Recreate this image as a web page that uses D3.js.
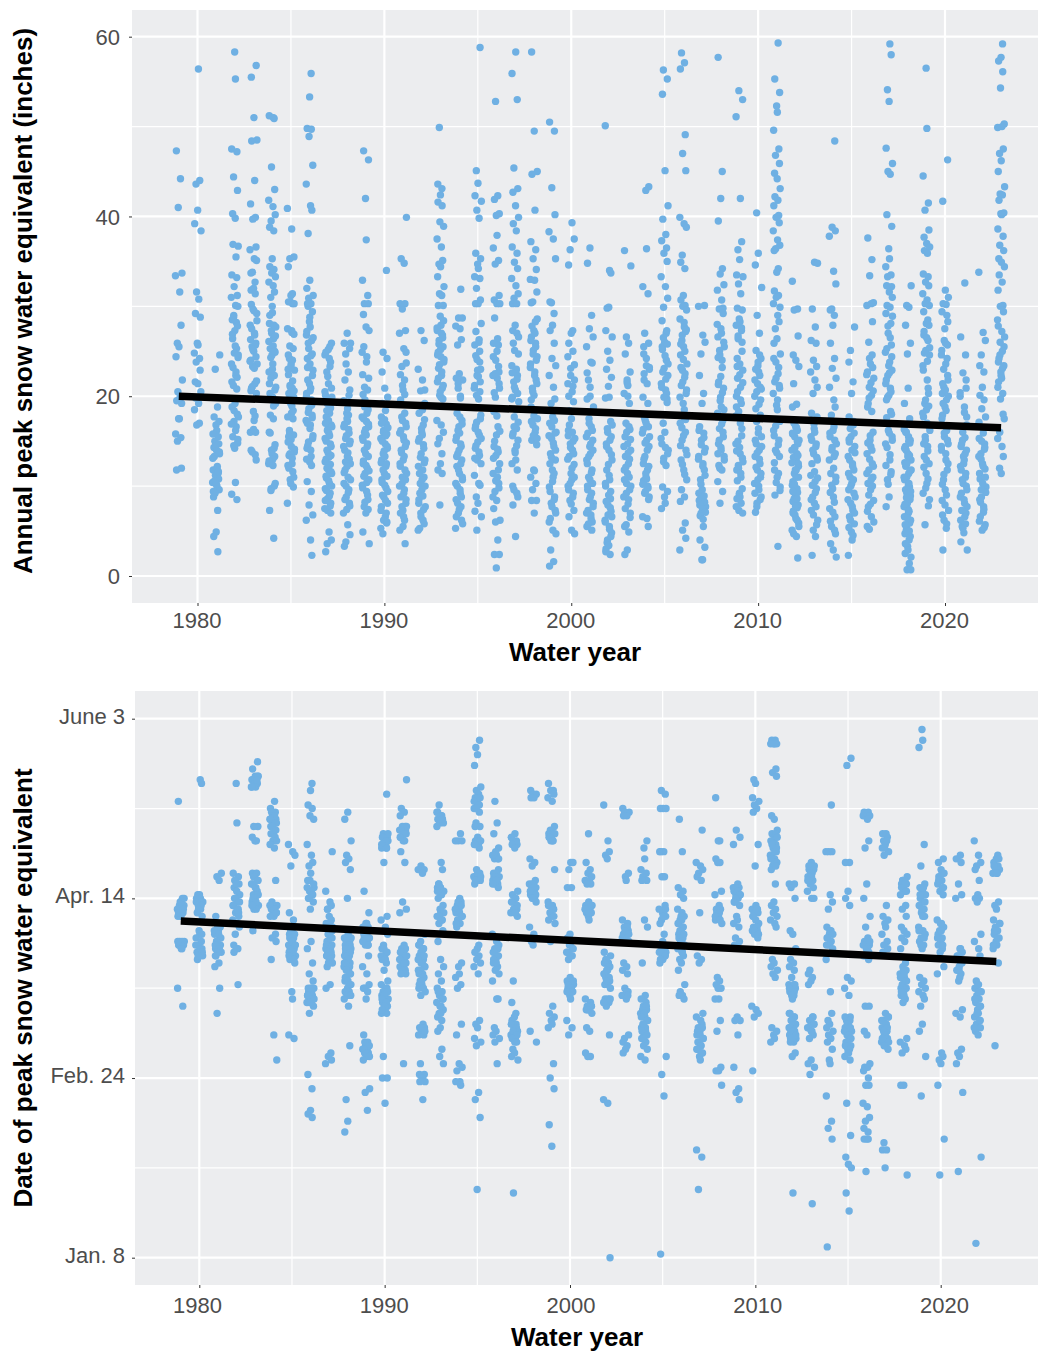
<!DOCTYPE html>
<html lang="en">
<head>
<meta charset="UTF-8">
<title>Peak snow water equivalent</title>
<script src="https://d3js.org/d3.v7.min.js"></script>
<style>
    body { margin: 0; background: white; }
    text { font-family: "Liberation Sans", Arial, sans-serif; }
    .title { font-weight: bold; font-size: 26px; fill: black; }
    .tick text { font-size: 22px; fill: #4d4d4d; }
    .tick line { stroke: #333; }
</style>
</head>
<body>
<div id="chart"></div>
<script>
const years = d3.range(1979, 2024);

// annual peak SWE (inches), one row per water year
const sweByYear = [
[47.3,44.2,41,33.7,33.4,31.6,27.9,25.9,25.5,24.4,21.8,20.5,19.9,19.5,19.2,17.5,17.5,15.8,15.4,15,12,11.8],
[56.4,44,43.6,40.7,39.2,38.4,31.6,30.8,29.2,28.8,25.9,25.7,24.8,24.2,23.8,22.9,21.6,21.4,20.5,19.8,19.2,18.5,17,16.8],
[24.6,23,18.8,17.7,17.2,16.8,16.2,15.8,15.5,15,14.7,14.3,14,13.6,13.3,12.2,11.8,11.4,11.2,10.8,10.4,10,9.6,9.2,8.8,7.3,4.9,4.4,2.7],
[58.3,55.3,47.5,47.2,44.4,42.9,40.3,39.8,36.7,36.9,35.5,33.5,33.2,32.2,31.2,31,30.1,30,29,28.5,28.2,27.3,26.9,25.3,24.8,24.3,23.6,22.3,22.1,21.2,19.2,18.8,17.7,17.2,16.6,15.5,14.8,14.2,10.4,9.1,8.5],
[56.8,55.5,51,48.5,48.4,44,41.4,39.9,39.7,36.6,36.3,35.3,35.1,33.8,33.7,32.7,32,31.8,31.4,29.7,29.2,27.9,27,25.9,25.5,25,24,23.6,23.3,21.4,20.9,20.3,18.3,17.3,16,16,13.8,12.9],
[51,51.2,50.9,45.5,43,41.8,41.1,40.2,39.5,38.8,38.4,35.3,34.4,34.1,33.7,33.3,32.7,32.3,31.6,31,29.3,28.1,27.7,27.3,26.4,25.3,24.9,24.6,23.6,22.7,22.3,22,20.7,20.3,19.9,19.2,17.9,17.5,16,14.2,14,13.3,12.5,12.3,10.3,9.7,7.3,4.2],
[40.9,38.6,35.5,35.3,34.4,31.4,31.2,30.5,30.3,30.5,30.3,27.5,27.1,25.3,24.2,23.6,23,22.9,21.2,20.9,20.3,19.9,19.2,18.1,17.7,17.5,15.9,15.7,15.5,14.4,13.8,13.4,12.5,12.3,11.6,10.7,9.9,8.1],
[55.9,53.3,49.8,49.7,48.9,45.7,43.6,41.2,40.7,38.1,32.9,32,31.2,30.9,30.3,30.3,29.4,28.3,27.7,26.8,26.2,25.9,24.7,24.2,23.6,22.9,21.8,20.9,20.3,19.6,18.6,17.9,17.3,16.8,15.3,14.9,14.2,13.3,12.7,10.5,9.4,7.9,6.8,6.2,4,2.3],
[25.9,24.6,24.2,23.8,22.7,21.4,20.1,19.9,19.2,18.1,17.7,16.8,16.4,15.9,15.3,14.7,14,13.4,13,11.8,11.4,10.9,10.3,9.7,9.2,8.6,8.1,7.5,4.9,4,3.6,2.7],
[27,25.9,25.9,23.6,22.7,21.8,20.7,18.1,17.2,16.6,15.9,15.3,14.7,14,13.3,12.5,11.8,11,10.3,9.6,8.8,8.1,7,5.7,4.6,3.8,3.3],
[47.3,46.3,42,37.4,32.9,31.2,30.3,30.3,29.1,27.7,27.3,25.5,24.4,22.4,20.7,19.6,18.5,17.7,17.2,16.6,16,15.1,14.4,13.6,12.5,12,11.4,10.7,10.1,9.4,8.5,7.7,7,4.9,3.6],
[34,24.9,24.2,22.7,20.9,19.9,19.2,18.4,17.7,16.9,16.2,15.8,15.3,14.7,14.2,13.6,12.9,12.2,11.4,10.7,9.8,8.8,8.1,7.3,6.6,5.9,4.7],
[39.9,35.3,34.8,30.3,30.3,29.7,27.3,27,25.3,24.9,23.3,22.4,21.8,20.7,19.2,18.1,17.3,16.6,15.9,15.1,14.4,13.7,12.9,12.2,11.4,10.3,9.6,8.8,8.1,7.3,6.6,5.1,3.6],
[27.3,26.2,23,21.8,20.7,20.6,18.1,16.8,16,15.3,14.6,13.6,12.9,12.2,11.8,11,10.3,9.6,8.5,7.7,7,6.2,5.3],
[49.9,43.6,43.1,42.4,41.6,41.2,39.4,38.9,37.5,36.6,35.1,34.7,34.4,33.3,32.2,31.4,31.2,30.1,30.1,28.9,27.9,27.3,26.8,26.2,25.5,24.9,24.4,23.8,23.1,22.3,21.6,20.9,20.1,19.7,17.3,16.8,16,15.3,14.7,13.6,12.5,11.8,11.4,7.9],
[31.9,28.7,28.7,27.8,27.5,26.3,25.7,22.5,22,21.8,21.4,20,18.1,17.3,16.6,15.9,15.1,14.4,13.6,12.9,12.2,11.4,10.7,10,9.2,8.5,7.7,7,6.2,5.3],
[58.8,45.1,43.7,42.3,41.7,40.7,39.8,35.9,35.3,34.7,34.2,33.3,33.1,32,30.7,30.3,30.3,28.1,27.2,26,25.7,23.8,22.3,21.6,20.9,19.7,17.9,17.1,16.4,15.7,14.9,14.2,13.4,12.9,12.5,11.2,10.3,10.1,8.8,8.1,7.2,6.6,5.1],
[52.8,42.3,41.9,40.3,40.1,37.9,36.5,35.1,34.7,31.2,30.7,30.3,30.3,28.7,26.4,25.9,25.7,24,22.7,22.3,22,20.9,19.9,18.3,16.6,15.7,14.4,13.8,13.4,12.5,11.4,11,10.3,9.4,8.4,7.5,6.2,6,4,2.4,2.4,0.9],
[58.3,55.9,53,45.4,43.1,42.7,41.2,39.9,39.2,38.4,36.6,35.9,34.9,34.2,33.1,32.3,31.4,30.9,30.3,30.3,27.9,27.3,27,25.1,24.7,23.4,22.9,22.3,21.6,20.7,19.9,19.4,17.7,16.4,15.9,15.1,14,12.9,12.5,11.8,9.6,8.8,7.9,4.4],
[58.3,49.5,45,44.7,40.7,37.2,36.3,35.3,34.1,33,32.9,31.6,30.5,30.4,28.3,27.3,26.6,25.9,25.1,24.4,23.6,22.7,21.8,20.9,20.1,18.8,17.5,16.8,16,15.1,14.6,11.8,11.7,11,10.3,9.6,8.4,8.4,7],
[50.5,49.5,43.2,40.2,38.3,37.5,35.3,30.4,30.5,29.2,27.9,27.3,25.9,24.2,23.4,22.3,21,19.7,19.2,17.7,17,16,15.3,14.4,13.6,12.9,11.8,11,9.9,8.8,8.1,7.3,6.4,5.1,4.7,2.9,1.6,1.1],
[39.3,37.5,36.3,34.6,27.3,27,25.9,25,23.1,21.8,21.4,20.5,19.4,18.4,17.5,16.2,15.3,14.7,14,13.3,12.4,11.4,10.7,10,9.2,8.4,7.3,6.6,5.1,4.7],
[36.5,34.8,29,27.5,26.6,25.5,23.8,23.7,21.8,21,19.7,18.8,17.5,16.6,15.9,15.1,14.4,13.6,12.9,11.8,11,10.3,9.6,8.8,8.1,7.3,6.4,5.5,5.1],
[50.1,34,33.7,29.8,29.9,27.3,26.6,25,24,23,22.1,21.1,19.9,19.8,17.2,16.4,15.5,14.7,14,12.9,11.8,10.7,10,8.6,7.9,7.2,6.2,5.5,4.8,4,3,2.4],
[36.2,34.5,26.6,25.9,24.7,22.7,21.8,21.2,20.3,19.2,17,16.3,15.5,14.7,14,13.3,12.5,11.8,11,10.3,9.6,8.8,8,7,5.7,5.5,4.9,2.9,2.4],
[43.3,42.9,36.4,32.2,31.4,27,25.9,24.7,23.4,23,21.8,21.4,19.9,19.2,17.3,16.6,15.9,15.1,14.4,13.3,12.5,11.8,11,10.6,10,9.4,8.8,6.6,6.4,5.5],
[56.3,55.3,53.6,45.1,41.2,39.7,38,37.3,36.5,35.9,35,33.3,32.2,30.9,29.9,28.4,27,26,25.5,24,23.1,22.3,21.4,20.7,19.7,17,16,14.7,14,13.1,12.3,9.9,9.4,8.8,8.1,7.5],
[58.2,57.1,56.4,49.1,47,45.1,39.9,39.2,38.8,35.7,34.9,34.2,31.2,30.7,30.1,30,29.6,28.6,27.7,27.2,26.2,25.5,24.6,23.6,22.9,22.1,21.2,20.3,19.2,17.7,17,16,15.1,14,12.9,11.8,10.7,9.6,8.8,8.3,5.9,5.1,4.2,2.9],
[30.1,30,26.8,26,24.7,22.3,20.3,19.2,16.6,15.9,15.1,14.2,13.3,12.5,11.8,10.7,9.6,8.4,7.7,7,5.5,4,3.2,1.8,1.8],
[57.7,45,42,39.5,34.2,33.6,32.4,31.8,30.7,29.8,29.7,27.5,26.6,25.5,24.6,24,21.6,20.9,19.9,18.8,18.1,17.3,16.4,15.5,14.7,14,13.3,12.3,11.8,10.5,9.4,8.1],
[54,53,51.1,42,37.2,36.3,35.2,33.5,33.3,32.5,31.4,29.8,29.6,28.6,28.3,27.9,27.3,26.4,26,24.2,23.6,22.9,22,21,20,19.2,18.3,16.4,14.7,13.6,13.1,12.3,11.8,11,9.2,8.6,8.1,7.3,7],
[40.4,35.9,34.6,32.1,29,27,25.1,24.2,23.4,22.7,21.8,21,20.5,19.6,18.6,16.4,15.5,14.7,14,13.3,12.5,11.8,11,10.3,9.6,8.8,8.1,7.1],
[59.3,55.3,53.8,52.3,51.6,49.6,47.5,46.8,45.9,44.8,44.2,43.1,42.2,41.8,41.2,40.1,39.9,39.3,38.4,37.4,36.8,36.4,36.2,34.2,33.8,31.7,31.2,31,29.9,30.3,29,28.3,27.5,26.4,25.9,24.7,23.8,22.5,21.6,20.9,19,18.5,16.2,15.1,14,13.3,11.8,11,9.9,9,3.3],
[32.8,29.7,29.6,26.7,24.6,24,23.3,21.4,19.1,18.8,16.2,15.5,14.7,14,12.9,12.2,11.4,10.5,9.7,9,8.3,7.6,6.8,5.9,5.1,4.4,2],
[34.9,34.8,29.7,27.7,26.2,25.9,24,23.3,22.7,21.8,21,20.3,18.1,17.3,16.4,15.1,14.4,13.6,12.9,11.2,10.5,9.7,8.8,8.1,7.3,6.2,5.1,4.4,2.3],
[48.4,38.8,38.4,37.8,33.9,32.5,29.7,29.6,29,27.9,25.9,24.2,23.1,22,21,19.6,18.8,17.9,16.2,15.5,14.7,14,13.3,11.4,10.5,9.7,8.8,7.5,6.6,5.5,4.7,3.6,2.9,2.1],
[27.7,25.1,23.8,21.6,20.3,17.7,16.8,15.5,14.4,13.3,12.5,11.8,11,10.3,9.6,8.8,8.1,7.3,6.6,5.8,4.9,4,2.3],
[37.6,35.2,33.4,30.4,30.1,30.3,28.3,26,23.6,22.7,22,21,20.1,19.2,16,15.1,14.4,13.6,12.5,11.8,11,10.3,9.6,8.4,7.7,6.6,5.5],
[59.2,58,54.1,52.8,47.6,45.9,45,44.7,40.2,38.9,36.4,35.3,34.4,33.5,33.3,32.2,32.3,31.6,31,30.1,29.9,29.2,28.1,27,25.7,24.9,23.8,22.9,22.3,21.8,20.9,20.1,19.6,18.3,16.2,15.5,14.7,12.9,11.6,10.7,8.8,7.7],
[32.3,30.1,29.9,27.9,25.9,24.7,20.9,19.2,17.5,16,15.1,14.4,13.6,12.9,12.2,11.4,10.7,9.9,9.2,8.5,7.7,7,6.2,5.5,4.7,4,3.3,2.5,1.4,0.7,0.7],
[56.5,49.8,44.5,41.5,40.7,38.5,37.7,37,36.6,36.2,35.9,33.6,33.3,32.7,32.3,31.4,30.7,30.1,30.3,29.4,28.5,28.1,26.8,26.2,25.1,24.6,23.4,21.8,20.3,19.2,18.5,17.7,16.2,15.1,14.4,13.3,12.5,11.4,10.3,9.2,7.8,5.7],
[46.3,41.7,31.8,31,30.3,30.2,29.4,29,26.2,25.7,24.6,23.6,21.8,21,20.3,19.6,18.8,17.9,16.2,15.5,14.7,14,12.9,11.8,10.7,9.6,8.4,7.3,6.2,5.3,2.9],
[32.6,26.6,24.6,22.6,20.9,20,18.8,17.7,15.1,14.4,13.6,12.5,11.8,11,10.3,9.6,8.8,8.1,7,5.5,4.8,3.8,2.9],
[33.8,27.1,26.2,24.6,23.4,22.7,21,20.1,19.6,18.6,17.7,17.1,15.9,14.7,13.6,12.5,11.4,9.9,8.8,7.7,6.6,5.7,5.1],
[59.2,57.7,57.3,56.1,54.3,50.3,49.9,50,47.5,47,46.2,45,43.3,42.5,42.4,41.8,40.4,40.3,40.2,38.6,37.8,36.8,36.2,35.3,34.9,34.4,33.5,32.7,31.8,30.1,30,29.4,28.5,27.2,25.5,24.6,23.8,23.1,22.3,21.6,20.3,19.7,17.5,15.3,14.4,13.3,12,11.4]
];

// the packed part of each year's column, read separately
const sweDense = [
[],
[],
[14.5,13.8,13.1,12,11.6,10.6,10.2,9.4],
[28.8,27.8,26.4,25.6,24.6,23.2,22.7,21.6,20.8,18.4,18,16.9,16.2,15.2,14.5],
[30.2,29.5,28.4,27.5,26.8,26.3,25.7,25.2,24.4,23.9,23.1,21.7,21.1,20.6,17.8,16.3,14,13.5],
[30,29,27.9,27,26.7,26.1,25.6,25,24.3,23,21.4,21,19.6,18.9,15.9,14.6,13.6,13,12.8,10,9.5],
[27.3,26.9,25.6,24.6,24,23.3,22.4,21.7,21,20.6,19.6,18.9,18.4,16.2,15.2,14.9,14.1,13.6,13.1,12,11,10.3],
[30,28.8,27.2,26.5,25.3,24.5,23.2,22.3,21.4,20.6,20,19,18.2,17.6,17,16.4,15.6,14.5,14,13,12.3],
[25.5,25.2,24.9,23.3,22.2,20.9,20.5,19.5,18.7,18.4,17.3,17,16.6,16.2,15.6,15,14.4,13.7,13.2,12.7,12.4,12,11.6,11.1,10.6,10,9.5,8.9,8.4,7.8,7.3,7],
[17.9,17.5,16.9,16.3,15.6,15,14.4,13.7,13,12.7,12.2,11.5,10.7,10,9.3,8.5,7.8,7.4,18.6,19.5,20.1,24.7,25.3],
[18.8,18.1,17.5,16.9,16.3,15.7,15.4,14.7,14,13.3,12.8,12.3,11.7,11.1,10.4,9.8,9,8.2,7.4,24.9,23.8,22,21,20.2],
[17.4,17,16.5,16,15.6,15,14.4,13.9,13.3,12.6,12.5,11.8,11.1,10.4,10.1,9.4,9,8.4,7.7,7,6.2,6,5.3],
[17.7,17,16.2,15.5,14.8,14,13.3,12.5,11.8,11,10.7,10,9.2,8.5,7.7,7,6.2,5.5,19.6,20.2,21.2,23.7],
[17.4,16.4,15.7,15,14.2,13.2,12.6,11.4,10.7,10,9.2,8.9,8.1,7.4,6.6,5.8,5.1,18.5,19.2],
[28.4,27.6,27,26.5,25.8,25.2,24.6,24.1,23.5,22.7,22,21.2,20.5,19.9],
[17.7,16.9,16.2,15.5,14.7,14,13.3,12.5,11.8,11,10.3,9.6,8.8,8.1,7.4,6.6,5.8,20.9,19.8],
[26.3,24.5,23,22.9,22.2,21.2,20.5,20.1,17.5,16.7,16,15.3,14.5,13.8,13.1,25,24.1],
[25,24.4,23.3,22.5,21.4,20.4,17.8,16.1,15,14.1,13.1,11.8,10.6,9.8,8.8],
[26.6,25.9,23,22.6,21.9,21,20.3,19.7,18.5,17.1,16.6,15.6,14.5,13.7,10,9.2],
[28.6,27.8,27,26.2,25.5,24.7,24,23.2,22.3,21.4,20.5,19.6,18.4,17.8,17.2,16.4,15.6,15.3],
[17.3,16.6,15.9,15.6,14.8,14,13.2,12.5,11.4,10.5,9.4,8.5,7.7,7,6],
[16.8,16,15.6,15,14.3,13.6,13,12,11,10.3,9.6,8.8,8,20,21.1,22.3,23.5,24.4],
[17,16.2,15.5,14.7,14,13.3,12.5,11.5,10.7,10,9.2,8.5,7.7,7,6.8,6,5.8,20,22.6],
[9,8.3,7.6,6.8,6.6,6,5.2,4.4,3.7,3.4,2.7,16.8,16,15.1,14.4,13.5,12.4,11.2,10.3,9.4],
[16.6,16,15.2,14.4,13.7,13,12.1,11.4,10.7,10,9.2,8.5,7.5,6.5,21.5,20],
[17.6,17,16.3,15.5,14.8,14,13,12.2,11.4,10.8,10.2,9.8,9.2,8.5,25.5,24.2,23.2,22.5],
[27.3,26.5,25.8,25.2,24.5,23.6,22.7,21.9,21,20.3,19.9,19.3,15.3,14.3,13.6,12.7],
[28.2,27.4,26.8,25.8,25,24.1,23.2,22.5,21.6,20.7,19.9,18.5,17.4,16.5,15.6,14.5,13.5,12.4,11.3],
[9.2,8.9,8.6,8.2,7.9,7.5,7.1,6.7,6.3,16.2,15.4,14.6,13.8,13,12.2,11.2,10.2],
[29.2,28,27,26,25.1,24.3,23.2,22.2,21.3,20.4,19.5,18.5,17.7,16.9,16,15.1,14.3,13.6,12.9,12],
[17.8,17,15.6,15,14.3,13.9,12.7,12,11.4,10.6,9.7,9,8.8,7.7,27.6,26.7,25,23.3,22.4,21.5,20.5,19.6,18.8],
[24.6,23.8,23,22.3,21.4,20.8,20,19.1,17.9,17.2,15.9,15.1,14.4,13.7,13,12.1,11.4,10.7,10,9.2,8.5,7.7],
[24.2,23.2,22,21.2,20.3,19.6,17.2,16.7,15.6,14.6,13.7,12.6,11.4,10.4,9.5],
[17,16.6,15.8,15.1,14.3,13.6,13.2,12.5,11.8,11,10.1,9.3,8.6,7.9,7.2,6.4,5.5,4.7,16.5,15.9,15,14.2,13.4,12.6,11.8,11,10.2,9.4,8.6,7.8,7,6.2],
[17.7,16.9,16,15.5,14.7,14,13.2,12.5,11.6,10.9,10.1,9.3,8.5,7.7,6.8,5.7],
[17.4,16.6,15.9,15.1,14.3,13.6,12.9,12,11,10.1,9.3,8.2,7.1,6.1,5.1],
[17.2,16.4,15.9,14.9,14,13.7,12.9,12.2,11.4,10.7,10,9.2,8.5,7.7,7,6.2,5.4,4.5,16.9,15.2],
[24.6,24.2,23.2,22.4,21.5,20.6,19.8,18.8,18.3,15.6,14.8,14,13,12.2,11.4,10.7,10,9,8,7.2,6,5.2],
[28.9,27.8,26.5,25.3,24.4,23.4,22.6,21.4,20.5,19.9,18,17.6,15.9,15.1,14.3,13.5,12.3,11.3,10.2],
[16.3,15.5,14.8,14,13.3,12.6,11.8,11,10.3,9.6,8.9,8.1,7.4,6.6,5.9,5.1,4.4,3.6,2.9,2.1,16,15,14.2,13.4,12.5,11.7,11,10.1,9.4,8.7,8,7.2,6.4,5.7,5],
[27.9,27.2,26.5,25.4,24.8,23.9,22.9,20.9,19.6,18.9,18.1,17,16.6,15.5,14.7,13.9,12.9,12.1,10.8,9.8,8.5],
[28.3,27.5,25.9,25.1,24.2,23,22.3,21.4,20.7,20,19.2,18.4,17.5,16.6,15.9,15.1,14.4,13.6,12.5,11.3,10.2,9,7.9,6.8,5.8],
[16,15.4,14.7,14,13.3,12.9,12.2,11.4,10.7,10,9.2,8.5,7.7,7.3,6.6,6.2,5.8,5.3,21.8,20.4,18.2,16.8],
[16.5,15.3,14.1,13,11.9,10.8,10.3,9.3,8.2,7.1,6.1,5.4,15,14.3,13.3,12.2,11,9.6,8.5,7.4],
[27.8,26.6,26,25,24.2,23.4,22.7,22,21,18,16]
];

// date of peak SWE as day of water year (Jan. 8 = 100), one row per water year
const dayByYear = [
[227,200,199,198,197,197,196,196,195,195,188,188,188,187,187,187,186,175,170],
[233,232,201,201,200,199,198,197,196,195,191,190,189,188,187,186,185,184,184,183],
[207,206,205,195,193,192,191,190,189,188,187,186,186,185,184,182,181,175,168],
[232,221,207,206,205,204,203,202,201,200,199,198,197,196,195,194,193,192,190,187,186,186,185,176],
[238,236,234,234,233,233,233,232,232,232,231,231,220,220,217,216,216,207,207,206,205,204,203,202,201,200,199,198,197,197,191],
[227,225,224,223,222,222,221,221,220,220,219,218,218,217,216,216,215,214,205,199,198,198,198,197,197,197,196,196,195,195,190,189,188,183,162,155],
[215,213,212,209,196,194,191,190,189,188,187,187,186,186,185,185,185,184,184,183,183,182,174,172,162,161],
[232,230,226,225,223,222,215,212,210,209,207,205,203,202,201,200,199,197,188,186,182,179,177,175,175,175,174,174,173,173,172,172,171,171,170,168,151,147,141,140,139],
[213,202,199,198,197,195,193,192,190,189,188,187,187,186,186,185,185,184,184,183,182,181,176,175,157,156,155,154],
[224,222,216,212,211,210,208,200,190,189,188,188,187,187,186,186,185,185,184,184,183,182,181,180,179,178,177,176,175,174,174,173,173,172,170,159,144,138,135],
[202,196,193,193,192,192,191,191,190,190,189,189,188,188,187,187,184,181,179,176,175,175,174,172,162,160,159,159,158,158,157,157,156,155,147,146,141],
[229,218,217,217,216,216,215,215,214,214,210,195,194,192,190,187,186,185,184,183,182,180,177,176,175,175,174,173,173,172,172,171,171,170,170,169,168,168,156,150,150,143],
[233,225,224,223,220,220,219,219,218,218,217,217,216,216,213,210,199,197,196,187,186,186,185,185,184,184,183,183,182,182,181,181,180,180,179,179,154],
[209,208,208,207,190,188,187,186,185,184,183,182,181,180,179,178,177,176,175,174,173,165,164,164,163,163,162,162,154,151,151,150,149,149,144],
[226,224,223,223,222,222,221,221,220,210,208,204,203,203,202,202,201,200,198,197,196,195,194,193,191,188,183,181,179,177,175,174,173,172,171,170,169,168,167,166,164,163,158,156,154],
[218,216,216,216,200,199,198,197,196,195,194,193,192,182,181,179,178,176,175,165,162,154,153,152,149,149,148],
[244,242,240,237,231,230,229,228,228,227,226,225,224,221,220,220,217,216,216,215,215,214,208,207,206,206,205,205,204,187,186,185,184,183,182,181,179,166,165,164,161,160,159,146,144,139,119],
[227,221,218,214,213,212,212,211,211,208,207,207,206,206,205,205,204,204,203,190,188,187,186,185,184,183,182,181,180,179,177,172,172,164,163,162,161,160,154],
[218,217,216,216,215,215,214,202,201,200,199,198,197,197,196,196,195,177,171,168,167,166,165,164,163,162,161,160,158,157,156,155,118],
[230,229,229,228,228,211,210,209,205,204,204,203,203,202,202,201,201,200,200,199,192,190,189,188,187,163,160],
[232,230,230,229,228,227,220,219,218,218,217,217,216,216,208,199,198,197,196,195,194,193,188,170,168,167,166,165,164,154,150,147,137,131],
[210,210,208,203,203,190,189,188,187,186,185,184,184,183,178,177,176,176,175,175,174,173,172,166,164,162],
[218,210,208,207,206,205,205,204,204,199,198,198,197,197,196,196,195,194,172,171,170,170,169,169,168,164,163,157,156,156],
[226,216,213,212,211,185,184,183,182,182,181,180,180,179,178,178,177,176,176,175,172,172,171,171,170,162,144,143,100],
[225,224,224,223,223,207,206,205,194,193,192,191,190,189,188,182,181,180,179,175,174,173,172,162,161,160,159,158,157],
[216,214,211,208,207,206,205,205,194,192,182,173,172,171,170,169,168,167,166,165,164,163,162,161,160,159,158,156,155],
[230,229,225,225,225,213,213,213,206,206,198,197,196,195,194,193,190,188,187,186,186,185,185,184,184,183,183,182,156,151,145,101],
[222,213,203,202,201,200,197,196,195,194,193,192,191,190,189,188,187,186,185,184,183,182,180,176,174,173,173,172],
[219,210,209,208,207,206,205,196,184,183,182,168,167,166,165,164,163,162,161,160,159,158,157,156,155,130,128,119],
[228,216,216,211,210,210,202,201,198,197,196,195,194,193,178,177,176,175,175,172,172,166,163,153,152,152,148],
[219,217,215,204,203,203,202,202,201,201,200,199,198,195,194,193,192,189,188,187,167,166,166,162,153,147,146,144],
[233,232,228,227,226,225,224,215,209,198,197,197,196,196,195,194,193,192,192,191,191,190,189,170,169,168,167,152],
[244,244,243,243,243,243,236,235,234,223,222,219,218,217,216,215,214,213,212,211,210,209,208,204,199,198,197,196,195,194,193,192,183,182,181,180,179,178,164,163,162,161,160],
[204,204,203,200,191,190,186,183,182,181,180,178,176,176,175,175,174,174,173,172,168,167,166,165,164,164,163,163,162,162,161,161,160,160,157,156,118],
[210,209,208,207,206,205,204,203,202,200,200,180,179,178,177,176,167,166,165,164,163,162,161,155,154,153,151,115],
[226,213,213,213,201,199,197,192,191,190,189,188,187,186,183,174,168,166,165,164,163,162,161,160,158,155,154,145,138,136,133,103],
[239,237,210,210,202,200,198,178,177,175,173,167,166,165,164,163,162,161,160,159,158,157,156,155,143,134,128,126,125,118,113],
[224,224,223,223,223,222,216,214,204,200,195,192,189,188,187,186,185,184,183,170,170,163,162,154,153,153,152,150,148,148,143,142,139,138,136,135,133,133,133,124],
[218,217,216,215,214,213,212,198,195,194,193,192,190,188,187,186,185,168,167,166,165,164,163,162,161,160,159,158,132,130,130,125],
[206,205,205,204,204,203,202,201,198,197,195,192,191,190,189,188,186,182,181,180,179,178,177,176,175,175,174,173,172,171,161,160,159,158,157,148,148,123],
[247,244,242,215,209,204,203,202,201,200,199,198,197,196,195,192,191,190,189,188,187,186,178,177,176,175,174,173,172,170,165,163,156,145],
[211,210,208,207,206,205,204,203,202,201,194,193,192,191,190,189,188,187,186,185,181,179,157,156,155,154,148,133,123],
[212,211,210,204,201,200,186,185,184,183,182,181,180,179,177,169,168,167,158,157,156,154,146,124],
[216,212,210,209,208,205,201,200,200,199,190,188,186,184,177,176,175,174,173,172,171,170,169,168,167,166,165,164,163,162,128,104],
[212,211,210,209,208,208,207,207,199,198,197,194,193,192,191,190,189,188,187,186,182,159]
];

// the packed clusters of each year, read separately
const dayDense = [
[198,197,196,199,200,187,186,188],
[200,199,198,197,190,187,186,185,184],
[192,191,190,189,188,187,186,185,184,193],
[200,199,198,197,196,205,204],
[234,233,232,231,233,206,205,204,203,201,200,199,198],
[224,223,222,221,220,219,198,197,196],
[191,190,189,188,187,186,185,184,183],
[205,204,203,202,201,200,174,173,172,171,175],
[190,189,188,187,186,185,184,183,182,191,192,193,194,197],
[189,188,187,186,185,184,183,182,181,180,179,178,177,176],
[192,191,190,189,188,187,160,159,158,157,156],
[218,217,216,215,214,186,185,184,183,174,173,172,171,170,169],
[220,219,218,217,186,185,184,183,182],
[187,186,185,184,183,182,181,180,179,178,177,176,175,164,163],
[224,223,222,204,203,202,196,195,194,174,172,170,168],
[199,198,197,196,195,194,193],
[228,227,226,225,216,215,207,206,205],
[212,211,206,205,204,186,185,184,183,182],
[200,199,198,197,196,165,164,163,162,161,160],
[204,203,202,201,200],
[218,217,216,198,197,196,195],
[186,185,184,177,176,175,174],
[198,197,196,170,169],
[183,182,181,180,179,178,177,172,171],
[192,191,190,189,174,173],
[170,169,168,167,166,165,164,163,162,161],
[197,196,195,187,186,185,184,183],
[195,194,193,192,191,190,189,188,187,186,185],
[164,163,162,161,160,159,158,157],
[197,196,195,194],
[203,202,201,200,199],
[197,196,195,192,191,190],
[218,216,214,212,210,217,215,213,211,209],
[168,167,166,165,164,163,162,161,176,175,174,173],
[209,208,207,206,205,167,166,165,164,163],
[191,190,189,188,187],
[167,166,165,164,163,162,161,160,159,158,157],
[188,187,186,185,184],
[218,216,214,167,166,165,164,163,162,161,160,159],
[205,204,203,202,180,179,178,177,176,175,174,173],
[203,201,199,197,195,191,189,187],
[207,205,203,193,191,189,187],
[186,184,182,180,178],
[174,172,170,168,166,164,176],
[211,209,207,193,191,189,187]
];

// horizontal scatter of the points around their water year
const jitter = [-0.13,0.09,-0.03,0.17,-0.18,0.05,0.12,-0.08,0.01,-0.15,0.19,-0.05,0.07,-0.11,0.15,-0.01,0.03,-0.17,0.11,-0.07,0.14,-0.12,0.02,0.18,-0.1,0.06,-0.16,0.1,-0.04,0.13,-0.19,0.04,0.16,-0.06,-0.14,0.08,0];

const xTicks = [1980, 1990, 2000, 2010, 2020];
const xMinor = [1985, 1995, 2005, 2015];
const sweTicks = [0, 20, 40, 60];
const sweMinor = [10, 30, 50];
const dayTicks = [100, 150, 200, 250];
const dayMinor = [125, 175, 225];
const dayLabels = ["Jan. 8", "Feb. 24", "Apr. 14", "June 3"];

// trend line ends: [1979, 2023]
const sweTrend = [20.0, 16.5];
const dayTrend = [193.7, 182.4];

const svg = d3.select("#chart").append("svg")
    .attr("width", 1038)
    .attr("height", 1353)
    .style("display", "block");

function draw_panel(opts) {
    const g = svg.append("g");
    const x = d3.scaleLinear().domain([1980, 2020]).range(opts.xRange);
    const y = d3.scaleLinear().domain(opts.yDomain).range(opts.yRange);
    const xLabel = d3.scaleLinear().domain([1980, 2020]).range(opts.xLabelRange);

    g.append("rect")
        .attr("x", opts.left)
        .attr("y", opts.top)
        .attr("width", 1038 - opts.left)
        .attr("height", opts.bottom - opts.top)
        .attr("fill", "#ecedef");

    // grid
    const grid = g.append("g").attr("stroke", "white");
    grid.selectAll(".v").data(xMinor.concat(xTicks)).enter().append("line")
        .attr("x1", d => x(d)).attr("x2", d => x(d))
        .attr("y1", opts.top).attr("y2", opts.bottom)
        .attr("stroke-width", d => xTicks.includes(d) ? 2.2 : 1.2);
    grid.selectAll(".h").data(opts.yMinor.concat(opts.yTicks)).enter().append("line")
        .attr("x1", opts.left).attr("x2", 1038)
        .attr("y1", d => y(d)).attr("y2", d => y(d))
        .attr("stroke-width", d => opts.yTicks.includes(d) ? 2.2 : 1.2);

    // points
    const points = [];
    years.forEach((yr, i) => {
        opts.values[i].concat(opts.dense[i]).forEach((v, j) => {
            points.push({ x: yr + jitter[(j + i * 5) % jitter.length], y: v });
        });
    });
    g.append("g").selectAll("circle").data(points).enter().append("circle")
        .attr("cx", d => x(d.x))
        .attr("cy", d => y(d.y))
        .attr("r", 3.7)
        .attr("fill", "#6fb0e3");

    // trend
    g.append("line")
        .attr("x1", x(1979)).attr("x2", x(2023))
        .attr("y1", y(opts.trend[0])).attr("y2", y(opts.trend[1]))
        .attr("stroke", "black")
        .attr("stroke-width", 7.5);

    // axes
    const xAxis = g.append("g")
        .attr("transform", "translate(0," + opts.bottom + ")")
        .call(d3.axisBottom(x).tickValues(xTicks).tickFormat(d3.format("d")).tickSize(3).tickPadding(opts.xPad));
    xAxis.select(".domain").remove();
    xAxis.selectAll("text").attr("dx", d => xLabel(d) - x(d));

    const yAxis = g.append("g")
        .attr("transform", "translate(" + opts.left + ",0)")
        .call(d3.axisLeft(y).tickValues(opts.yTicks).tickFormat(opts.yFormat).tickSize(3).tickPadding(opts.yPad));
    yAxis.select(".domain").remove();
    yAxis.selectAll("text").attr("y", opts.yLabelShift);

    g.append("text")
        .attr("class", "title")
        .attr("x", opts.xTitleX)
        .attr("y", opts.xTitleY)
        .attr("text-anchor", "middle")
        .text("Water year");

    g.append("text")
        .attr("class", "title")
        .attr("transform", "translate(32," + opts.yTitleY + ") rotate(-90)")
        .attr("text-anchor", "middle")
        .text(opts.yTitle);
}

draw_panel({
    left: 132, top: 10, bottom: 603,
    xRange: [197.5, 945], xLabelRange: [196.5, 944], xPad: 6,
    yDomain: [0, 60], yRange: [576, 36.7],
    yTicks: sweTicks, yMinor: sweMinor,
    yFormat: d3.format("d"), yPad: 9, yLabelShift: 0.5,
    values: sweByYear, dense: sweDense, trend: sweTrend,
    xTitleX: 575, xTitleY: 661, yTitleY: 301,
    yTitle: "Annual peak snow water equivalent (inches)"
});

draw_panel({
    left: 135, top: 691, bottom: 1285,
    xRange: [199.3, 940.7], xLabelRange: [197, 944], xPad: 9,
    yDomain: [100, 250], yRange: [1257.7, 718.7],
    yTicks: dayTicks, yMinor: dayMinor,
    yFormat: d => dayLabels[dayTicks.indexOf(d)], yPad: 7, yLabelShift: -2.5,
    values: dayByYear, dense: dayDense, trend: dayTrend,
    xTitleX: 577, xTitleY: 1346, yTitleY: 988,
    yTitle: "Date of peak snow water equivalent"
});
</script>
</body>
</html>
